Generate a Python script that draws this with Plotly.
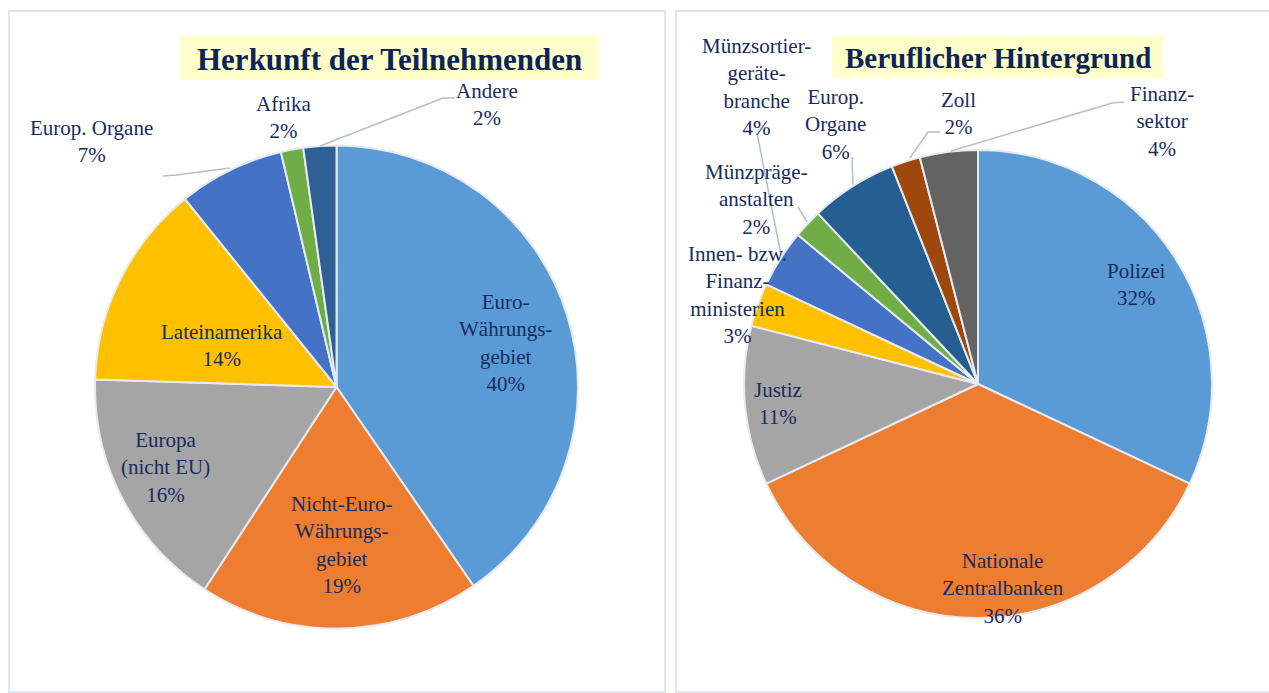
import plotly.graph_objects as go

W, H = 1269, 693

# ---------------- data ----------------
left_title = "Herkunft der Teilnehmenden"
left_labels = ["Euro-<br>Währungs-<br>gebiet", "Nicht-Euro-<br>Währungs-<br>gebiet",
               "Europa<br>(nicht EU)", "Lateinamerika", "Europ. Organe", "Afrika", "Andere"]
left_shares = [40.4, 18.8, 16.3, 13.7, 7.1, 1.5, 2.2]          # slice sizes
left_pct = ["40%", "19%", "16%", "14%", "7%", "2%", "2%"]      # printed labels
left_colors = ["#5B9BD5", "#ED7D31", "#A5A5A5", "#FFC000", "#4472C4", "#70AD47", "#2F5F94"]

right_title = "Beruflicher Hintergrund"
right_labels = ["Polizei", "Nationale<br>Zentralbanken", "Justiz",
                "Innen- bzw.<br>Finanz-<br>ministerien", "Münzsortier-<br>geräte-<br>branche",
                "Münzpräge-<br>anstalten", "Europ.<br>Organe", "Zoll", "Finanz-<br>sektor"]
right_shares = [32, 36, 11, 3, 4, 2, 6, 2, 4]
right_pct = ["32%", "36%", "11%", "3%", "4%", "2%", "6%", "2%", "4%"]
right_colors = ["#5B9BD5", "#ED7D31", "#A5A5A5", "#FFC000", "#4472C4", "#70AD47",
                "#255E91", "#9E480E", "#636363"]

# ---------------- layout helpers (pixel -> paper) ----------------
def px(x):
    return x / W

def py(y):
    return 1 - y / H

def domain(cx, cy, r):
    return dict(x=[px(cx - r), px(cx + r)], y=[py(cy + r), py(cy - r)])

SERIF = "Liberation Serif, Times New Roman, serif"
LABEL_FONT = dict(family=SERIF, size=21, color="#172C5E")
LEFT_TITLE_FONT = dict(family=SERIF, size=31, color="#0D2456")
RIGHT_TITLE_FONT = dict(family=SERIF, size=29, color="#0D2456")

fig = go.Figure()

fig.add_trace(go.Pie(
    labels=[l.replace("<br>", " ") for l in left_labels], values=left_shares,
    sort=False, direction="clockwise", rotation=0,
    marker=dict(colors=left_colors, line=dict(color="#E6EBF1", width=2)),
    textinfo="none", hoverinfo="label+percent", showlegend=False,
    domain=domain(336.5, 387, 241.5),
))
fig.add_trace(go.Pie(
    labels=[l.replace("<br>", " ") for l in right_labels], values=right_shares,
    sort=False, direction="clockwise", rotation=0,
    marker=dict(colors=right_colors, line=dict(color="#E6EBF1", width=2)),
    textinfo="none", hoverinfo="label+percent", showlegend=False,
    domain=domain(978, 384, 234),
))

# label anchor positions (pixel centres)
left_pos = [(505, 343), (341, 545), (165, 467), (222, 345), (91, 141), (283, 118), (487, 105)]
right_pos = [(1136, 285), (1003, 588), (778, 404), (738, 295), (756, 87),
             (756, 199), (836, 124), (958, 113), (1162, 122)]

annotations = []
for lab, pct, (x, y) in zip(left_labels, left_pct, left_pos):
    annotations.append(dict(x=px(x), y=py(y), xref="paper", yref="paper",
                            text=f"{lab}<br>{pct}", showarrow=False, font=LABEL_FONT,
                            xanchor="center", yanchor="middle", align="center"))
for lab, pct, (x, y) in zip(right_labels, right_pct, right_pos):
    annotations.append(dict(x=px(x), y=py(y), xref="paper", yref="paper",
                            text=f"{lab}<br>{pct}", showarrow=False, font=LABEL_FONT,
                            xanchor="center", yanchor="middle", align="center"))

# titles
annotations.append(dict(x=px(389), y=py(59), xref="paper", yref="paper", text=f"<b>{left_title}</b>",
                        showarrow=False, font=LEFT_TITLE_FONT, xanchor="center", yanchor="middle"))
annotations.append(dict(x=px(998), y=py(58), xref="paper", yref="paper", text=f"<b>{right_title}</b>",
                        showarrow=False, font=RIGHT_TITLE_FONT, xanchor="center", yanchor="middle"))

shapes = []
# panel frames
shapes.append(dict(type="rect", xref="paper", yref="paper", x0=px(9), x1=px(665), y0=py(692), y1=py(11),
                   line=dict(color="#D9DEE5", width=1.5), fillcolor="rgba(0,0,0,0)", layer="below"))
shapes.append(dict(type="rect", xref="paper", yref="paper", x0=px(676), x1=px(1275), y0=py(692), y1=py(11),
                   line=dict(color="#D9DEE5", width=1.5), fillcolor="rgba(0,0,0,0)", layer="below"))
# title boxes
shapes.append(dict(type="rect", xref="paper", yref="paper", x0=px(180), x1=px(598), y0=py(80), y1=py(36),
                   line=dict(width=0), fillcolor="#FFFFCC", layer="below"))
shapes.append(dict(type="rect", xref="paper", yref="paper", x0=px(832), x1=px(1163), y0=py(78), y1=py(36),
                   line=dict(width=0), fillcolor="#FFFFCC", layer="below"))

# leader lines
leaders = [
    [(163, 176), (176, 175), (230, 168)],
    [(455, 98), (443, 98), (320, 146)],
    [(757, 133), (781, 255)],
    [(798, 207), (807, 222)],
    [(852, 157), (853, 185)],
    [(940, 132), (928, 132), (910, 158)],
    [(1124, 102), (1112, 103), (951, 151)],
]
for pts in leaders:
    path = "M " + " L ".join(f"{px(x):.5f},{py(y):.5f}" for x, y in pts)
    shapes.append(dict(type="path", xref="paper", yref="paper", path=path,
                       line=dict(color="#B4BFCC", width=1.5)))

fig.update_layout(
    width=W, height=H, margin=dict(l=0, r=0, t=0, b=0),
    paper_bgcolor="white", plot_bgcolor="white",
    annotations=annotations, shapes=shapes,
)

fig.write_html("out.html", config={"displayModeBar": False},
               post_script="document.body.style.margin='0';document.body.style.overflow='hidden';")
